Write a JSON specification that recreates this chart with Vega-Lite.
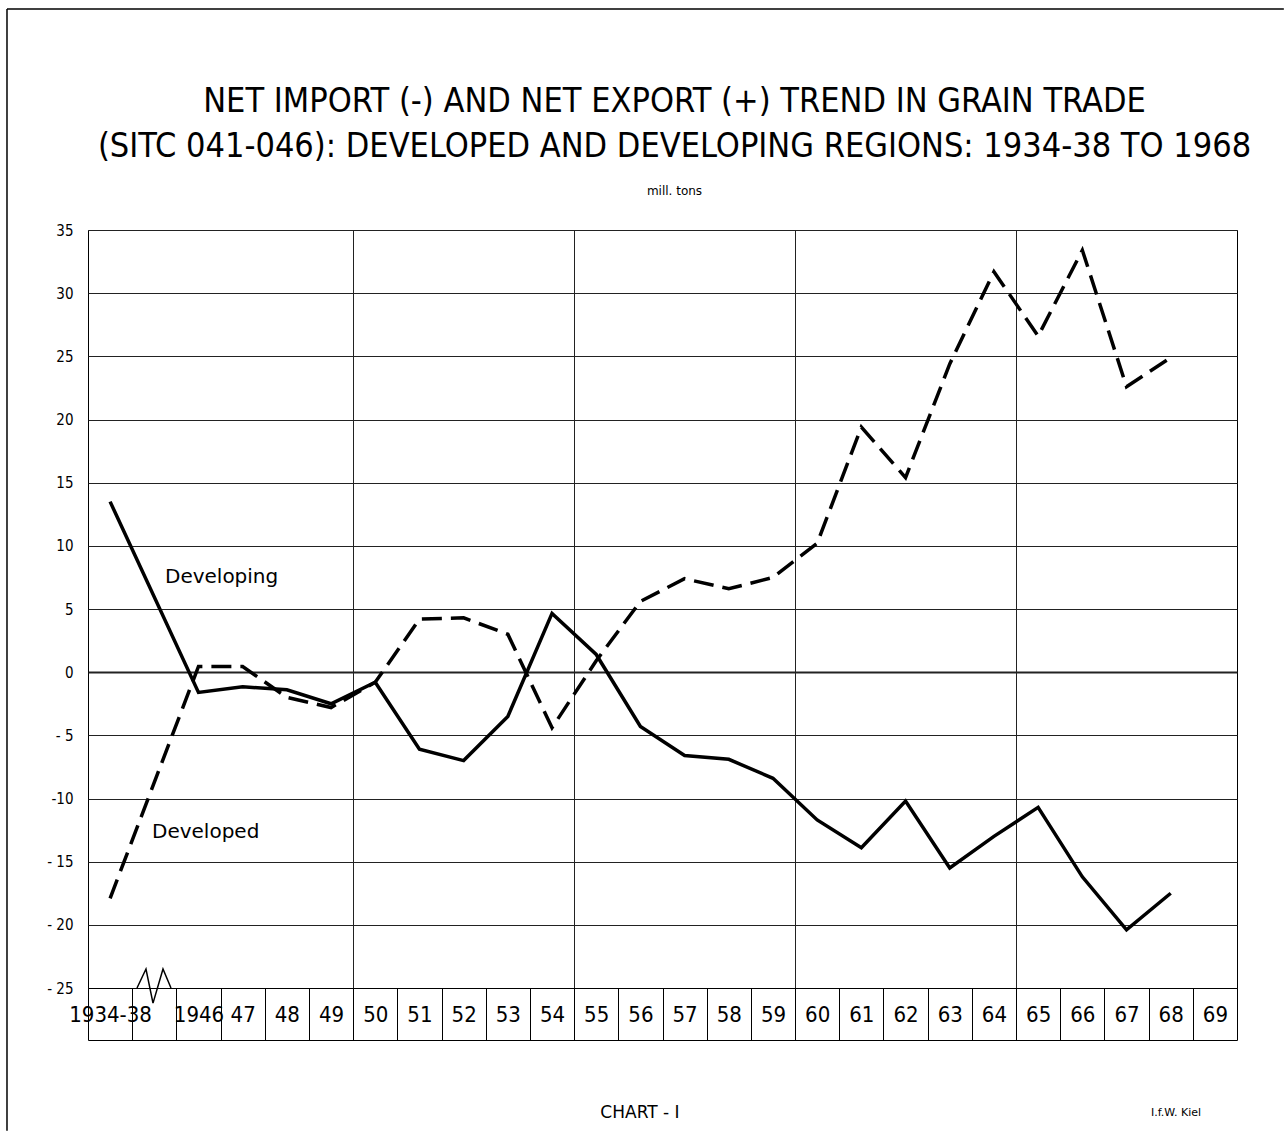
{
  "$schema": "https://vega.github.io/schema/vega-lite/v6.json",
  "autosize": {"type": "none"},
  "padding": {"left": 88, "top": 230, "right": 51, "bottom": 143},
  "width": 1149,
  "height": 758,
  "background": "white",
  "config": {
    "view": {"stroke": "black", "strokeWidth": 1},
    "axis": {"title": null}
  },
  "title": {
    "text": ["NET IMPORT (-) AND NET EXPORT (+) TREND IN GRAIN TRADE", "(SITC 041-046): DEVELOPED AND DEVELOPING REGIONS: 1934-38 TO 1968"],
    "subtitle": "mill. tons",
    "anchor": "middle",
    "dx": 12,
    "font": "'DejaVu Sans Condensed', 'DejaVu Sans', sans-serif",
    "fontSize": 34,
    "fontWeight": "normal",
    "lineHeight": 45,
    "color": "black",
    "subtitleFont": "'DejaVu Sans', sans-serif",
    "subtitleFontSize": 12,
    "subtitleColor": "black",
    "subtitlePadding": 22,
    "offset": -189
  },
  "datasets": {
    "lines": [
      {"year": "1934-38", "region": "Developing", "y": 13.5},
      {"year": "1946", "region": "Developing", "y": -1.6},
      {"year": "47", "region": "Developing", "y": -1.15},
      {"year": "48", "region": "Developing", "y": -1.4},
      {"year": "49", "region": "Developing", "y": -2.5},
      {"year": "50", "region": "Developing", "y": -0.8},
      {"year": "51", "region": "Developing", "y": -6.1},
      {"year": "52", "region": "Developing", "y": -7.0},
      {"year": "53", "region": "Developing", "y": -3.5},
      {"year": "54", "region": "Developing", "y": 4.65},
      {"year": "55", "region": "Developing", "y": 1.4},
      {"year": "56", "region": "Developing", "y": -4.3},
      {"year": "57", "region": "Developing", "y": -6.6},
      {"year": "58", "region": "Developing", "y": -6.9},
      {"year": "59", "region": "Developing", "y": -8.4},
      {"year": "60", "region": "Developing", "y": -11.7},
      {"year": "61", "region": "Developing", "y": -13.9},
      {"year": "62", "region": "Developing", "y": -10.2},
      {"year": "63", "region": "Developing", "y": -15.5},
      {"year": "64", "region": "Developing", "y": -13.0},
      {"year": "65", "region": "Developing", "y": -10.7},
      {"year": "66", "region": "Developing", "y": -16.2},
      {"year": "67", "region": "Developing", "y": -20.4},
      {"year": "68", "region": "Developing", "y": -17.5},
      {"year": "1934-38", "region": "Developed", "y": -17.9},
      {"year": "1946", "region": "Developed", "y": 0.45},
      {"year": "47", "region": "Developed", "y": 0.45},
      {"year": "48", "region": "Developed", "y": -2.0},
      {"year": "49", "region": "Developed", "y": -2.8},
      {"year": "50", "region": "Developed", "y": -0.8},
      {"year": "51", "region": "Developed", "y": 4.2},
      {"year": "52", "region": "Developed", "y": 4.3},
      {"year": "53", "region": "Developed", "y": 3.0},
      {"year": "54", "region": "Developed", "y": -4.4},
      {"year": "55", "region": "Developed", "y": 0.9},
      {"year": "56", "region": "Developed", "y": 5.6},
      {"year": "57", "region": "Developed", "y": 7.4},
      {"year": "58", "region": "Developed", "y": 6.6},
      {"year": "59", "region": "Developed", "y": 7.5},
      {"year": "60", "region": "Developed", "y": 10.2},
      {"year": "61", "region": "Developed", "y": 19.4},
      {"year": "62", "region": "Developed", "y": 15.4},
      {"year": "63", "region": "Developed", "y": 24.4},
      {"year": "64", "region": "Developed", "y": 31.7},
      {"year": "65", "region": "Developed", "y": 26.6},
      {"year": "66", "region": "Developed", "y": 33.4},
      {"year": "67", "region": "Developed", "y": 22.6},
      {"year": "68", "region": "Developed", "y": 24.9}
    ],
    "breakmark": [
      {"o": 1, "u": 1.109, "y": -25},
      {"o": 2, "u": 1.312, "y": -23.5},
      {"o": 3, "u": 1.471, "y": -26.2},
      {"o": 4, "u": 1.697, "y": -23.5},
      {"o": 5, "u": 1.878, "y": -25}
    ],
    "frame": [
      {"side": "top", "u": -1.833, "u2": 27.06, "y": 52.49, "y2": 52.49},
      {"side": "left", "u": -1.833, "u2": -1.833, "y": 52.49, "y2": -36.3}
    ],
    "notes": [
      {"label": "Developing", "u": 1.742, "y": 7.54},
      {"label": "Developed", "u": 1.448, "y": -12.65},
      {"label": "CHART - I", "u": 12.49, "y": -34.9},
      {"label": "I.f.W. Kiel", "u": 24.62, "y": -34.9}
    ]
  },
  "encoding": {
    "y": {
      "field": "y",
      "type": "quantitative",
      "scale": {"domain": [-25, 35], "nice": false, "zero": false},
      "axis": {
        "values": [-25, -20, -15, -10, -5, 0, 5, 10, 15, 20, 25, 30, 35],
        "ticks": false,
        "domain": false,
        "grid": true,
        "gridColor": "#222222",
        "gridWidth": {"condition": {"test": "datum.value === 0", "value": 2}, "value": 1},
        "labelFont": "'DejaVu Sans Condensed', 'DejaVu Sans', sans-serif",
        "labelFontSize": 15,
        "labelColor": "black",
        "labelPadding": 15,
        "labelExpr": "datum.value < 0 ? (datum.value == -10 ? '-10' : '- ' + (-datum.value)) : datum.label"
      }
    }
  },
  "resolve": {"scale": {"x": "independent"}, "axis": {"x": "independent"}},
  "layer": [
    {
      "data": {"name": "lines"},
      "transform": [{"filter": "datum.region === 'Developing'"}],
      "mark": {"type": "line", "color": "black", "strokeWidth": 3.5, "strokeJoin": "miter"},
      "encoding": {
        "x": {
          "field": "year",
          "type": "nominal",
          "scale": {
            "type": "band",
            "domain": ["1934-38", "gap", "1946", "47", "48", "49", "50", "51", "52", "53", "54", "55", "56", "57", "58", "59", "60", "61", "62", "63", "64", "65", "66", "67", "68", "69"],
            "paddingInner": 0,
            "paddingOuter": 0
          },
          "axis": {
            "orient": "bottom",
            "domain": true,
            "domainColor": "black",
            "ticks": true,
            "tickBand": "extent",
            "tickSize": 52,
            "tickColor": "black",
            "tickWidth": 1,
            "grid": false,
            "labelAngle": 0,
            "labelBaseline": "middle",
            "labelPadding": -26,
            "labelFont": "'DejaVu Sans Condensed', 'DejaVu Sans', sans-serif",
            "labelFontSize": 22,
            "labelColor": "black",
            "labelOverlap": false,
            "labelBound": false,
            "labelExpr": "datum.value == 'gap' ? '' : datum.value"
          }
        }
      }
    },
    {
      "data": {"name": "lines"},
      "transform": [{"filter": "datum.region === 'Developed'"}],
      "mark": {"type": "line", "color": "black", "strokeWidth": 3.5, "strokeDash": [20, 9]},
      "encoding": {
        "x": {
          "field": "year",
          "type": "nominal",
          "scale": {
            "type": "band",
            "domain": ["1934-38", "gap", "1946", "47", "48", "49", "50", "51", "52", "53", "54", "55", "56", "57", "58", "59", "60", "61", "62", "63", "64", "65", "66", "67", "68", "69"],
            "paddingInner": 0,
            "paddingOuter": 0
          },
          "axis": {
            "orient": "bottom",
            "values": ["50", "55", "60", "65"],
            "bandPosition": 0,
            "grid": true,
            "gridColor": "#222222",
            "gridWidth": 1,
            "ticks": false,
            "labels": false,
            "domain": false
          }
        }
      }
    },
    {
      "encoding": {
        "x": {
          "field": "u",
          "type": "quantitative",
          "scale": {"domain": [0, 26], "nice": false, "zero": false},
          "axis": {
            "orient": "bottom",
            "offset": 52,
            "domain": true,
            "domainColor": "black",
            "domainWidth": 1,
            "ticks": false,
            "labels": false,
            "grid": false
          }
        }
      },
      "layer": [
        {
          "data": {"name": "frame"},
          "mark": {"type": "rule", "color": "black", "strokeWidth": 1.5},
          "encoding": {
            "x2": {"field": "u2"},
            "y2": {"field": "y2"}
          }
        },
        {
          "data": {"name": "breakmark"},
          "mark": {"type": "line", "color": "black", "strokeWidth": 1.5, "strokeJoin": "miter"},
          "encoding": {
            "order": {"field": "o", "type": "quantitative"}
          }
        },
        {
          "data": {"name": "notes"},
          "transform": [{"filter": "datum.label === 'Developing' || datum.label === 'Developed'"}],
          "mark": {"type": "text", "align": "left", "baseline": "middle", "font": "'DejaVu Sans', sans-serif", "fontSize": 20, "color": "black"},
          "encoding": {"text": {"field": "label"}}
        },
        {
          "data": {"name": "notes"},
          "transform": [{"filter": "datum.label === 'CHART - I'"}],
          "mark": {"type": "text", "align": "center", "baseline": "middle", "font": "'DejaVu Sans', sans-serif", "fontSize": 17, "color": "black"},
          "encoding": {"text": {"field": "label"}}
        },
        {
          "data": {"name": "notes"},
          "transform": [{"filter": "datum.label === 'I.f.W. Kiel'"}],
          "mark": {"type": "text", "align": "center", "baseline": "middle", "font": "'DejaVu Sans', sans-serif", "fontSize": 11, "color": "black"},
          "encoding": {"text": {"field": "label"}}
        }
      ]
    }
  ]
}
